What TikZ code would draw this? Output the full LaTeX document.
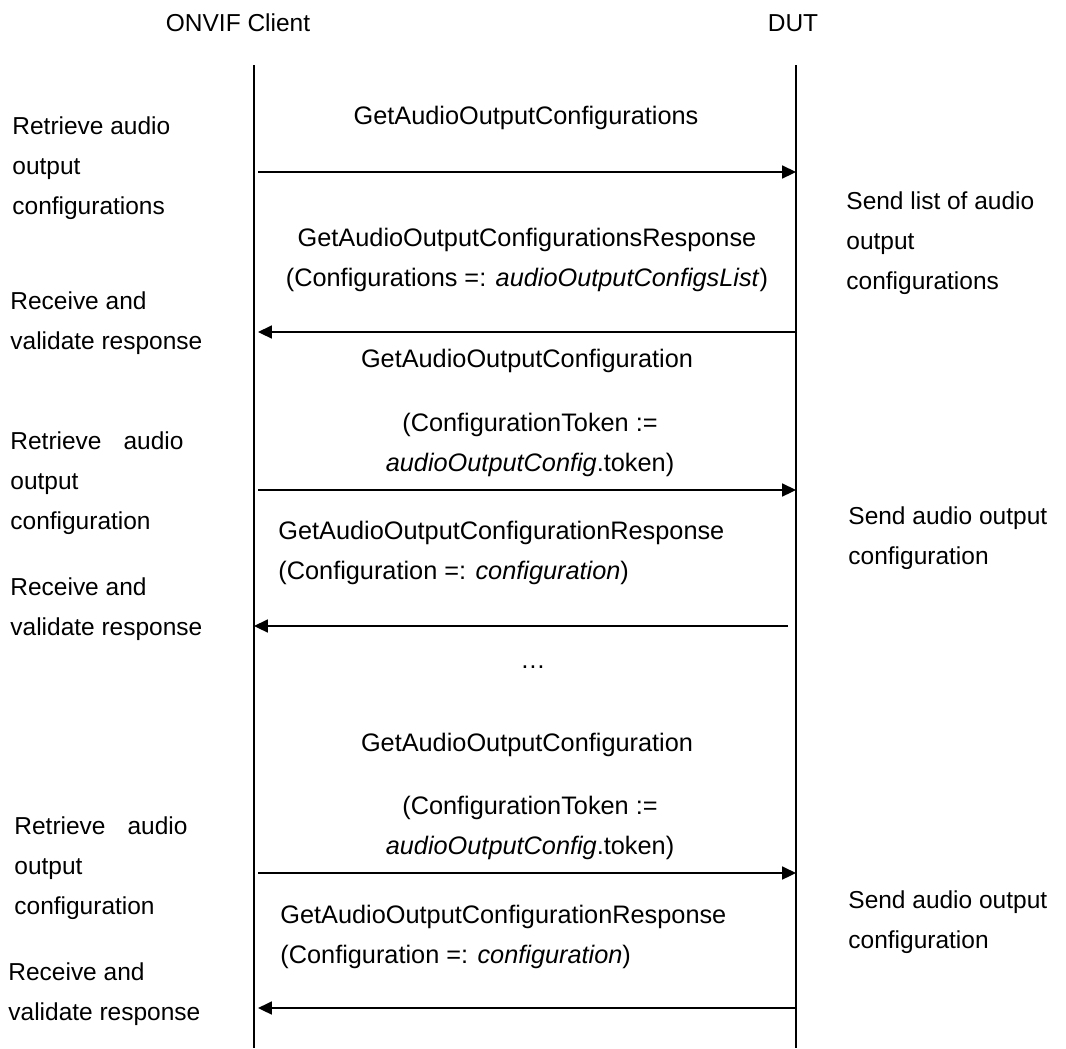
\documentclass[tikz,border=0pt]{standalone}
\usepackage{fontspec}
\setmainfont{Liberation Sans}
\usepackage{tikz}
\usetikzlibrary{arrows.meta}

\begin{document}
\begin{tikzpicture}[
      x=0.49pt, y=-0.49pt, % one unit per pixel, y runs downwards
      >={Triangle[length=6.8pt,width=6.4pt]},
      font=\fontsize{12}{19.6}\selectfont,
      lifeline/.style={line width=0.7pt, black},
      msg/.style={->, line width=0.7pt, black},
      headtext/.style={inner sep=0pt},
      notetext/.style={anchor=west, align=left, inner sep=0pt},
      justnote/.style={notetext, text width=84.8pt},
      msgtext/.style={align=center, inner sep=0pt, font=\fontsize{12.4}{19.6}\selectfont},
      msgnote/.style={notetext, font=\fontsize{12.4}{19.6}\selectfont},
    ]
    \useasboundingbox (0,0) rectangle (1066,1048);

    % ---- heads and lifelines --------------------------------------------
    \node[headtext] (client) at (238,23) {ONVIF Client};
    \node[headtext] (dut)    at (793,23) {DUT};
    \coordinate (clientTop) at (254,65);
    \coordinate (clientBot) at (254,1048);
    \coordinate (dutTop)    at (796,65);
    \coordinate (dutBot)    at (796,1048);
    \draw[lifeline] (clientTop) -- (clientBot);
    \draw[lifeline] (dutTop) -- (dutBot);

    % ---- message end points ---------------------------------------------
    \foreach \n/\y in {a/172, c/490, e/873}{%
      \coordinate (cl\n) at (258,\y);
      \coordinate (du\n) at (796,\y);
    }
    \coordinate (clb) at (258,332);  \coordinate (dub) at (797,332);
    \coordinate (cld) at (254,626);  \coordinate (dud) at (788,626);
    \coordinate (clf) at (258,1008); \coordinate (duf) at (796,1008);

    % ---- messages -------------------------------------------------------
    \draw[msg] (cla) -- (dua);
    \draw[msg] (dub) -- (clb);
    \draw[msg] (clc) -- (duc);
    \draw[msg] (dud) -- (cld);
    \draw[msg] (cle) -- (due);
    \draw[msg] (duf) -- (clf);

    \node[msgtext] (getList) at (526,118) {GetAudioOutputConfigurations};
    \node[msgtext] (listResp) at (527,260)
      {GetAudioOutputConfigurationsResponse\\(Configurations =: \textit{audioOutputConfigsList})};
    \node[msgtext] (getOne) at (527,361) {GetAudioOutputConfiguration};
    \node[msgtext] (getOneArg) at (530,445)
      {(ConfigurationToken :=\\\textit{audioOutputConfig}.token)};
    \node[msgnote] (oneResp) at (278,553)
      {GetAudioOutputConfigurationResponse\\(Configuration =: \textit{configuration})};
    \node[msgtext] (dots) at (533,667) {…};
    \node[msgtext] (getLast) at (527,745) {GetAudioOutputConfiguration};
    \node[msgtext] (getLastArg) at (530,828)
      {(ConfigurationToken :=\\\textit{audioOutputConfig}.token)};
    \node[msgnote] (lastResp) at (280,937)
      {GetAudioOutputConfigurationResponse\\(Configuration =: \textit{configuration})};

    % ---- client side notes ----------------------------------------------
    \node[notetext] (retrList) at (12,168) {Retrieve audio\\output\\configurations};
    \node[notetext] (recvList) at (10,323) {Receive and\\validate response};
    \node[justnote] (retrOne)  at (10,483) {Retrieve\hfill audio\\output\\configuration};
    \node[notetext] (recvOne)  at (10,609) {Receive and\\validate response};
    \node[justnote] (retrLast) at (14,868) {Retrieve\hfill audio\\output\\configuration};
    \node[notetext] (recvLast) at (8,994)  {Receive and\\validate response};

    % ---- device side notes ----------------------------------------------
    \node[notetext] (sendList) at (846,243) {Send list of audio\\output\\configurations};
    \node[notetext] (sendOne)  at (848,538) {Send audio output\\configuration};
    \node[notetext] (sendLast) at (848,922) {Send audio output\\configuration};
  \end{tikzpicture}
\end{document}
